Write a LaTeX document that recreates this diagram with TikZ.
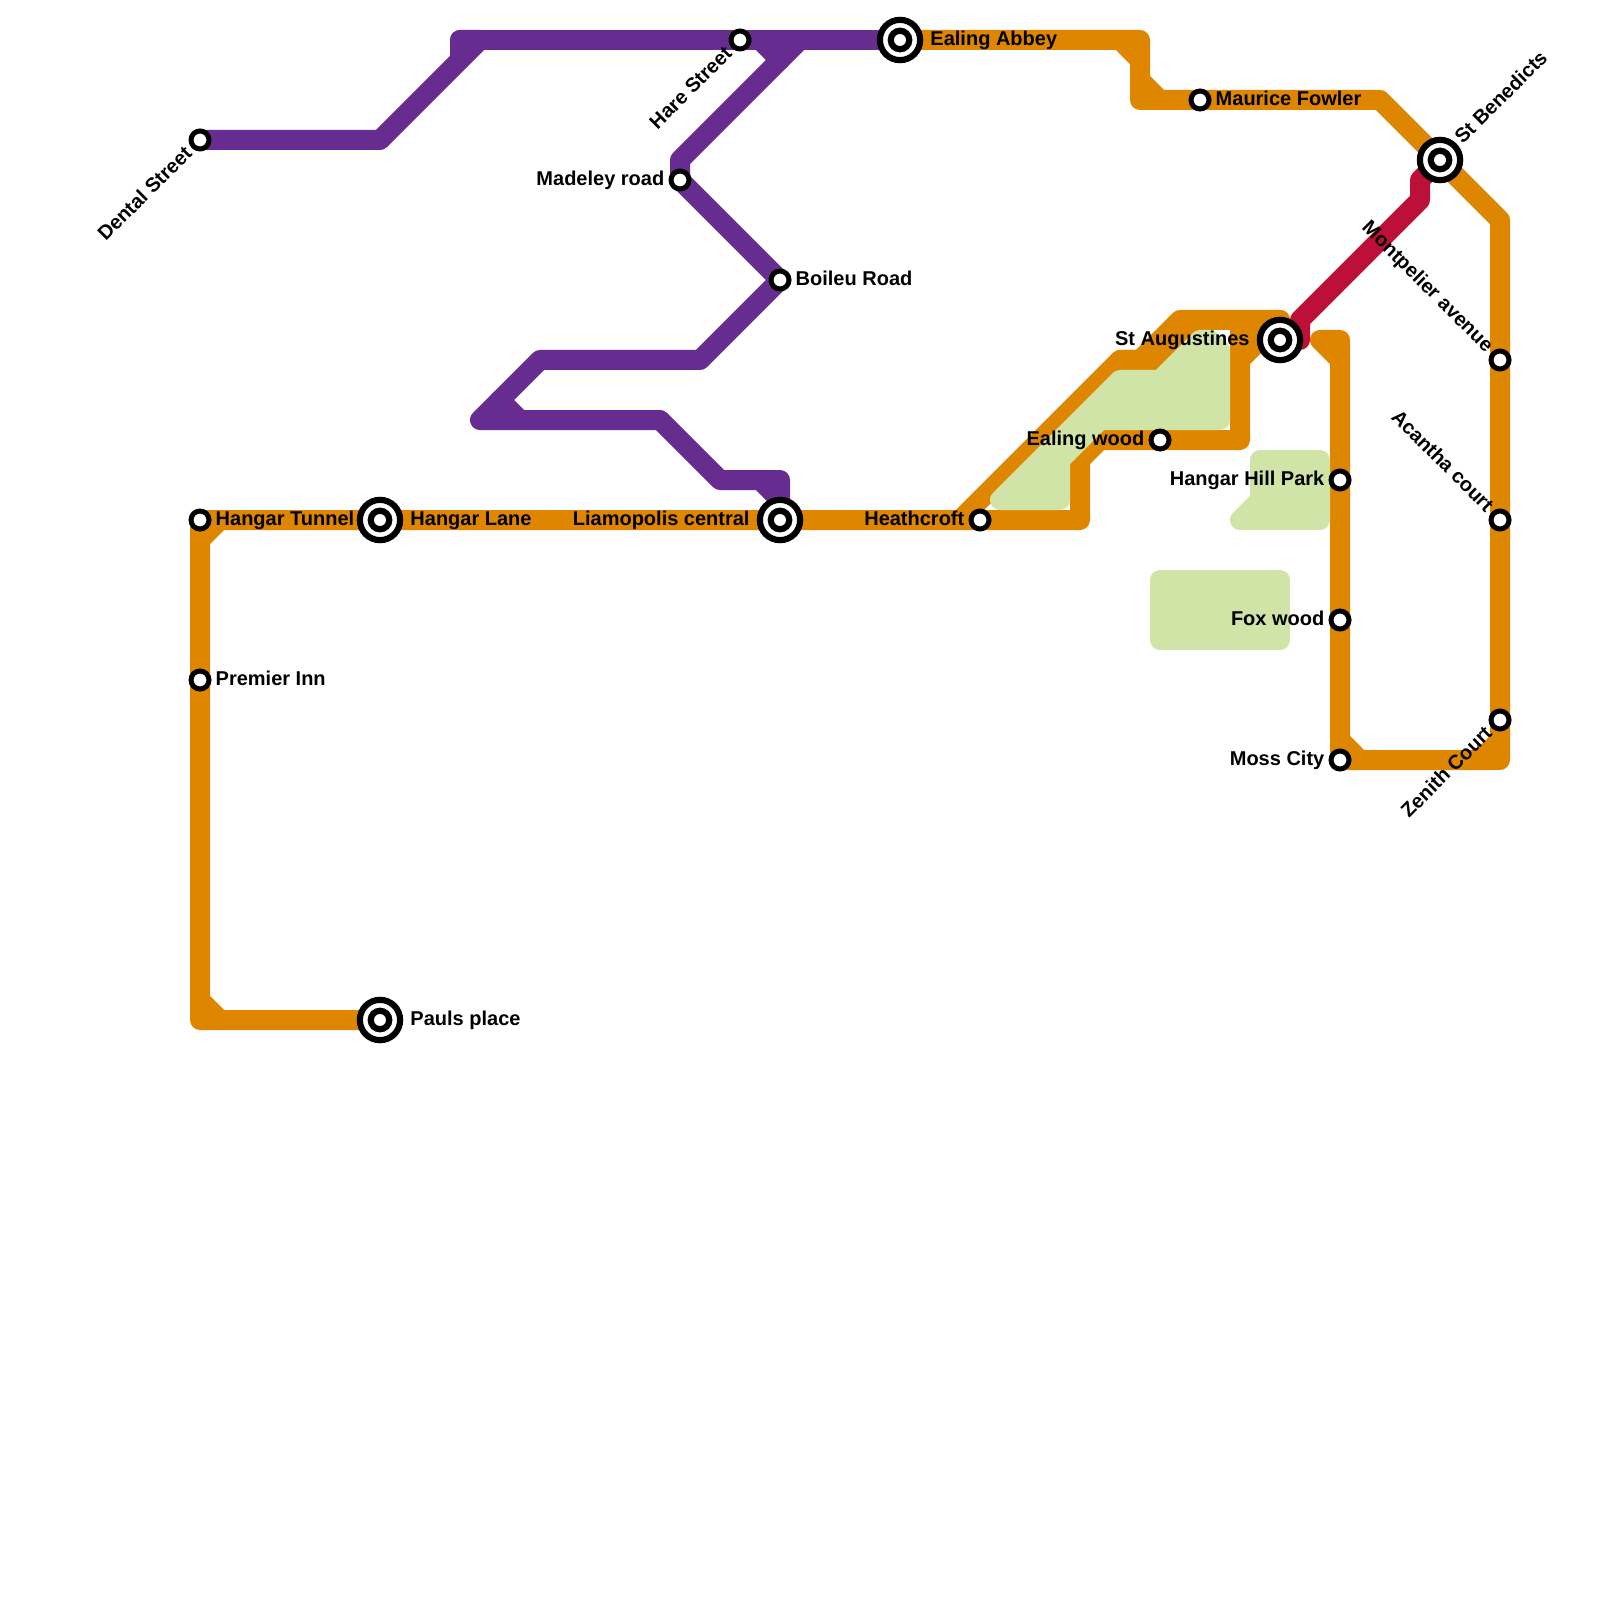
\documentclass[tikz,border=0pt]{standalone}
\usepackage{fontspec}
\setmainfont{Liberation Sans}
\usetikzlibrary{positioning,backgrounds}

\definecolor{lineorange}{HTML}{DF8600}
\definecolor{linepurple}{HTML}{662C90}
\definecolor{linered}{HTML}{BD1038}
\definecolor{parkgreen}{HTML}{D0E4A8}

\tikzset{
  station/.style={circle,draw=black,fill=white,line width=.5mm,minimum size=1.8mm,inner sep=0pt},
  bigstation/.style={station,line width=.62mm,minimum size=4.03mm},
  stationdot/.style={station,line width=.62mm,minimum size=1.85mm},
  stlabel/.style={font=\fontsize{5.69}{6.8}\selectfont\bfseries,inner xsep=.3mm,inner ysep=0pt,
    text height=1.4mm,text depth=.3mm},
  metro/.style={line width=2mm,line join=round,line cap=round},
  park/.style={draw=parkgreen,fill=parkgreen,line width=2mm,line join=round}
}

\begin{document}
\begin{tikzpicture}[x=2mm,y=-2mm]
  \useasboundingbox (0,0) rectangle (80,80);

  % stations
  \foreach \n/\x/\y in {tunnel/10/26,premier/10/34,dental/10/7,hare/37/2,madeley/34/9,boileu/39/14,
    heath/49/26,ealing/58/22,maurice/60/5,hill/67/24,fox/67/31,moss/67/38,
    montpelier/75/18,acantha/75/26,zenith/75/36}
    \node[station] (\n) at (\x,\y) {};
  \foreach \n/\x/\y in {lane/19/26,pauls/19/51,liam/39/26,abbey/45/2,augustines/64/17,benedicts/72/8}{
    \node[bigstation] (\n) at (\x,\y) {};
    \node[stationdot] (\n dot) at (\n.center) {};
  }

  % bends
  \foreach \n/\x/\y in {pa/19/7,pb/24/2,pc/23/2,pd/23/3,pe/38/2,pf/39/3,pg/40/2,ph/34/8,pi/35/18,
    pj/27/18,pk/24/21,pl/26/21,pm/25/20,pn/33/21,po/36/24,pp/39/24,pq/38/24,pr/39/25,
    oa/10/51,ob/10/50,oc/11/51,od/10/27,oe/11/26,of/54/26,og/54/23,oh/55/22,oi/62/22,oj/62/18,
    ok/64/16,ol/59/16,om/57/18,on/56/18,oo/48/26,op/58/18,oq/60/16,os/62/16,
    ra/56/2,rb/57/2,rc/57/3,rd/57/5,re/57/4,rf/58/5,rg/69/5,rh/75/11,ri/75/38,rk/67/17,
    rl/66/17,rm/67/18,rn/67/37,ro/68/38,rp/74/38,rq/75/37,
    sa/65/17,sb/65/16,sc/71/10,sd/71/9}
    \coordinate (\n) at (\x,\y);

  \begin{scope}[on background layer]
    % purple
    \draw[metro,linepurple] (dental.center) -- (pa) -- (pb) -- (pc) -- (pd);
    \draw[metro,linepurple] (pc) -- (hare.center) -- (abbey.center);
    \draw[metro,linepurple] (pg) -- (ph) -- (madeley.center) -- (boileu.center) -- (pi) -- (pj) -- (pk)
      -- (pn) -- (po) -- (pp) -- (liam.center);
    \draw[metro,linepurple] (pe) -- (pf);
    \draw[metro,linepurple] (pm) -- (pl);
    \draw[metro,linepurple] (pq) -- (pr);
    % orange
    \draw[metro,lineorange] (pauls.center) -- (oa) -- (tunnel.center) -- (lane.center) -- (liam.center)
      -- (heath.center) -- (of) -- (og) -- (oh) -- (ealing.center) -- (oi) -- (oj) -- (ok) -- (ol) -- (om) -- (on) -- (oo);
    \draw[metro,lineorange] (on) -- (op) -- (oq);
    \draw[metro,lineorange] (ok) -- (augustines.center) -- (os) -- (oj);
    \draw[metro,lineorange] (ob) -- (oc);
    \draw[metro,lineorange] (od) -- (oe);
    \draw[metro,lineorange] (abbey.center) -- (rb) -- (rd) -- (maurice.center) -- (rg) -- (benedicts.center)
      -- (rh) -- (montpelier.center) -- (acantha.center) -- (zenith.center) -- (ri) -- (moss.center)
      -- (fox.center) -- (hill.center) -- (rk) -- (rl) -- (rm);
    \draw[metro,lineorange] (ra) -- (rc);
    \draw[metro,lineorange] (re) -- (rf);
    \draw[metro,lineorange] (rn) -- (ro);
    \draw[metro,lineorange] (rp) -- (rq);
    % red
    \draw[metro,linered] (augustines.center) -- (sa) -- (sb) -- (sc) -- (sd) -- (benedicts.center);
    % parks
    \draw[park] (50,25) -- (56,19) -- (58,19) -- (60,17) -- (60.5,17) -- (61,17.5) -- (61,21) -- (55,21)
      -- (53,23) -- (53,25) -- cycle;
    \draw[park] (63,23) -- (66,23) -- (66,26) -- (62,26) -- (63,25) -- cycle;
    \draw[park] (58,29) -- (64,29) -- (64,32) -- (58,32) -- cycle;
  \end{scope}

  % labels
  \node[stlabel,right=.05mm of tunnel] (tunnel label) {Hangar Tunnel};
  \node[stlabel,right=.35mm of lane] (lane label) {Hangar Lane};
  \node[stlabel,right=.35mm of pauls] (pauls label) {Pauls place};
  \node[stlabel,right=.05mm of premier] (premier label) {Premier Inn};
  \node[stlabel,left=.35mm of liam] (liam label) {Liamopolis central};
  \node[stlabel,left=.05mm of heath] (heath label) {Heathcroft};
  \node[stlabel,left=.05mm of madeley] (madeley label) {Madeley road};
  \node[stlabel,right=.05mm of boileu] (boileu label) {Boileu Road};
  \node[stlabel,right=.35mm of abbey] (abbey label) {Ealing Abbey};
  \node[stlabel,right=.05mm of maurice] (maurice label) {Maurice Fowler};
  \node[stlabel,left=.35mm of augustines] (augustines label) {St Augustines};
  \node[stlabel,left=.05mm of ealing] (ealing label) {Ealing wood};
  \node[stlabel,left=.05mm of hill] (hill label) {Hangar Hill Park};
  \node[stlabel,left=.05mm of fox] (fox label) {Fox wood};
  \node[stlabel,left=.05mm of moss] (moss label) {Moss City};
  \node[stlabel,rotate=45,anchor=east] (dental label) at (dental.south west) {Dental Street};
  \node[stlabel,rotate=45,anchor=east] (hare label) at (hare.south west) {Hare Street};
  \node[stlabel,rotate=45,anchor=east] (zenith label) at (zenith.south west) {Zenith Court};
  \node[stlabel,rotate=45,anchor=west] (benedicts label) at (benedicts.north east) {St Benedicts};
  \node[stlabel,rotate=-45,anchor=east] (montpelier label) at (montpelier.north west) {Montpelier avenue};
  \node[stlabel,rotate=-45,anchor=east] (acantha label) at (acantha.north west) {Acantha court};
\end{tikzpicture}
\end{document}
